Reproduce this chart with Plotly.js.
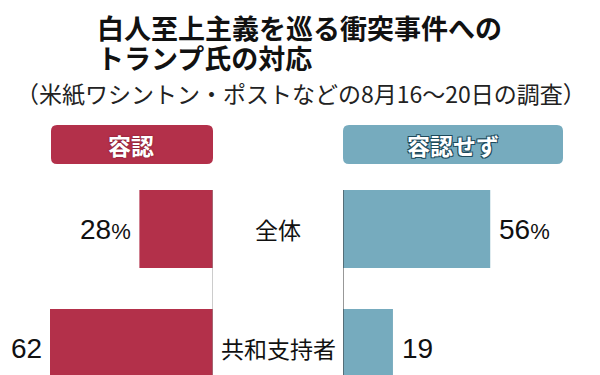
<!DOCTYPE html>
<html>
<head>
<meta charset="utf-8">
<script src="https://cdn.plot.ly/plotly-3.0.1.min.js"></script>
<style>html,body{margin:0;padding:0;background:#fff;}#chart{width:600px;height:375px;}</style>
</head>
<body>
<div id="chart"></div>
<script>
// ---- data ----
const categories = ['全体', '共和支持者'];
const approve = [28, 62];          // 容認 (%)
const disapprove = [56, 19];       // 容認せず (%)
const approveLabels = ['28%', '62'];
const disapproveLabels = ['56%', '19'];
const seriesNames = ['容認', '容認せず'];
const titleLines = ['白人至上主義を巡る衝突事件への', 'トランプ氏の対応'];
const subtitle = '（米紙ワシントン・ポストなどの8月16～20日の調査）';

// ---- style ----
const W = 600, H = 375;
const RED = '#b3304a', BLUE = '#76abbe';
const JP = '"Noto Sans CJK JP", "Noto Sans", sans-serif';
const NUM = '"Liberation Sans", Arial, sans-serif';
const px = v => v / W;            // pixel -> paper x
const py = v => 1 - v / H;        // pixel -> paper y

function roundRect(x0, y0, x1, y1, r) {
  const X = px, Y = py, rx = r / W, ry = r / H;
  const a = X(x0), b = X(x1), t = Y(y0), u = Y(y1);
  return `M${a + rx},${t} L${b - rx},${t} Q${b},${t} ${b},${t - ry} L${b},${u + ry} Q${b},${u} ${b - rx},${u} L${a + rx},${u} Q${a},${u} ${a},${u + ry} L${a},${t - ry} Q${a},${t} ${a + rx},${t} Z`;
}

const barWidth = 0.655;

const traces = [
  {type: 'bar', orientation: 'h', name: seriesNames[0], y: categories, x: approve,
   xaxis: 'x', yaxis: 'y', width: barWidth, marker: {color: RED}, hoverinfo: 'none'},
  {type: 'bar', orientation: 'h', name: seriesNames[1], y: categories, x: disapprove,
   xaxis: 'x2', yaxis: 'y', width: barWidth, marker: {color: BLUE}, hoverinfo: 'none'}
];

const annotations = [];
// titles
annotations.push({xref: 'paper', yref: 'paper', x: px(95), y: py(28), xanchor: 'left', yanchor: 'middle',
  text: titleLines[0], showarrow: false, font: {family: JP, size: 27, color: '#111', weight: 'bold'}});
annotations.push({xref: 'paper', yref: 'paper', x: px(95), y: py(57), xanchor: 'left', yanchor: 'middle',
  text: titleLines[1], showarrow: false, font: {family: JP, size: 27, color: '#111', weight: 'bold'}});
annotations.push({xref: 'paper', yref: 'paper', x: px(301), y: py(93), xanchor: 'center', yanchor: 'middle',
  text: subtitle, showarrow: false, font: {family: JP, size: 23, color: '#222'}});
// legend box texts
annotations.push({xref: 'paper', yref: 'paper', x: px(131), y: py(145), xanchor: 'center', yanchor: 'middle',
  text: seriesNames[0], showarrow: false,
  font: {family: JP, size: 23, color: '#fff', weight: 'bold', shadow: '0 0 2px #6e1526'}});
annotations.push({xref: 'paper', yref: 'paper', x: px(453), y: py(145), xanchor: 'center', yanchor: 'middle',
  text: seriesNames[1], showarrow: false,
  font: {family: JP, size: 23, color: '#fff', weight: 'bold',
         shadow: '1px 1px 0 #1d4a5c, -1px -1px 0 #1d4a5c, 1px -1px 0 #1d4a5c, -1px 1px 0 #1d4a5c'}});
// category labels and values
categories.forEach((c, i) => {
  annotations.push({xref: 'paper', yref: 'y', x: px(278), y: c, xanchor: 'center', yanchor: 'middle',
    text: c, showarrow: false, font: {family: JP, size: 23, color: '#111'}});
  annotations.push({xref: 'x', yref: 'y', x: approve[i], y: c, xanchor: 'right', yanchor: 'middle', xshift: -6,
    text: approveLabels[i].replace('%', '<span style="font-size:22px">%</span>'), showarrow: false,
    font: {family: NUM, size: 28, color: '#111'}});
  annotations.push({xref: 'x2', yref: 'y', x: disapprove[i], y: c, xanchor: 'left', yanchor: 'middle', xshift: 7,
    text: disapproveLabels[i].replace('%', '<span style="font-size:22px">%</span>'), showarrow: false,
    font: {family: NUM, size: 28, color: '#111'}});
});

const shapes = [
  {type: 'path', xref: 'paper', yref: 'paper', path: roundRect(51, 125, 213, 164, 6),
   fillcolor: RED, line: {width: 0}, layer: 'below'},
  {type: 'path', xref: 'paper', yref: 'paper', path: roundRect(343, 125, 563, 164, 6),
   fillcolor: BLUE, line: {width: 0}, layer: 'below'},
  {type: 'line', xref: 'x', yref: 'paper', x0: 0, x1: 0, y0: py(190), y1: 0,
   line: {color: '#999', width: 1}, layer: 'above'},
  {type: 'line', xref: 'x2', yref: 'paper', x0: 0, x1: 0, y0: py(190), y1: 0,
   line: {color: '#333', width: 1}, layer: 'above'}
];

const pxPerUnit = 163 / 62;
const rowPx = 119, row0 = 229;

const layout = {
  width: W, height: H,
  margin: {l: 0, r: 0, t: 0, b: 0, pad: 0},
  paper_bgcolor: '#fff', plot_bgcolor: 'rgba(0,0,0,0)',
  showlegend: false, barmode: 'overlay',
  xaxis: {domain: [0, 213 / W], range: [213 / pxPerUnit, 0], showgrid: false, zeroline: false,
          showticklabels: false, showline: false, fixedrange: true},
  xaxis2: {domain: [343 / W, 1], range: [0, 257 / pxPerUnit], anchor: 'y', showgrid: false, zeroline: false,
           showticklabels: false, showline: false, fixedrange: true},
  yaxis: {type: 'category', categoryorder: 'array', categoryarray: categories,
          range: [(H - row0) / rowPx, -row0 / rowPx], showgrid: false, zeroline: false,
          showticklabels: false, showline: false, fixedrange: true},
  annotations: annotations,
  shapes: shapes
};

Plotly.newPlot('chart', traces, layout, {displayModeBar: false, staticPlot: true});
</script>
</body>
</html>
